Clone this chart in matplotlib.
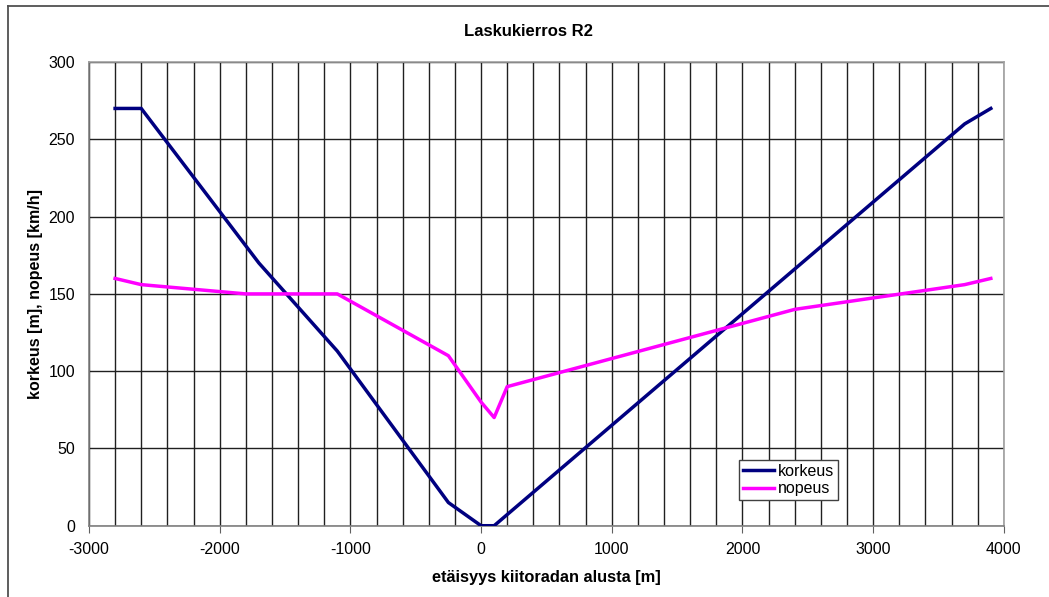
import matplotlib
matplotlib.use("Agg")
import matplotlib.pyplot as plt
from matplotlib.lines import Line2D
from matplotlib.ticker import MultipleLocator

plt.rcParams['font.family'] = ['Liberation Sans', 'DejaVu Sans']
plt.rcParams['axes.unicode_minus'] = False

# etäisyys kiitoradan alusta [m] ja arvot
x_korkeus = [-2800, -2600, -1700, -1100, -250, 0, 100, 3700, 3900]
korkeus = [270, 270, 170, 113, 15, 0, 0, 260, 270]

x_nopeus = [-2800, -2600, -2200, -1800, -1100, -250, 0, 100, 200, 2400, 3700, 3900]
nopeus = [160, 156, 153, 150, 150, 110, 80, 70, 90, 140, 156, 160]

title = "Laskukierros R2"
xlabel = "etäisyys kiitoradan alusta [m]"
ylabel = "korkeus [m], nopeus [km/h]"

fig = plt.figure(figsize=(10.49, 5.97), dpi=100)
ax = fig.add_axes([0.0848, 0.1194, 0.8722, 0.7766])

ax.plot(x_korkeus, korkeus, color='#000080', lw=2.5, label='korkeus', zorder=3)
ax.plot(x_nopeus, nopeus, color='#FF00FF', lw=2.5, label='nopeus', zorder=3)

ax.set_xlim(-3000, 4000)
ax.set_ylim(0, 300)
ax.xaxis.set_major_locator(MultipleLocator(1000))
ax.xaxis.set_minor_locator(MultipleLocator(200))
ax.yaxis.set_major_locator(MultipleLocator(50))
ax.grid(which='both', axis='x', color='#202020', lw=1.0)
ax.grid(which='major', axis='y', color='#202020', lw=1.0)
ax.set_axisbelow(True)

ax.tick_params(axis='x', which='major', direction='out', length=5, color='#606060',
               labelsize=11.5, pad=7)
ax.tick_params(axis='x', which='minor', length=0)
ax.tick_params(axis='y', which='major', direction='out', length=0, labelsize=11.5, pad=10)

for side in ['top', 'right']:
    ax.spines[side].set_color('#a0a0a0')
for side in ['left', 'bottom']:
    ax.spines[side].set_color('#808080')
for s in ax.spines.values():
    s.set_linewidth(1.2)

fig.text(0.504, 0.948, title, ha='center', va='center', fontsize=12, fontweight='bold')
ax.set_xlabel(xlabel, fontsize=11.8, fontweight='bold', labelpad=9)
ax.set_ylabel(ylabel, fontsize=11.5, fontweight='bold', labelpad=4)

leg = ax.legend(loc='lower left', bbox_to_anchor=(0.710, 0.055), fontsize=11.5,
                frameon=True, fancybox=False, handlelength=2.0, handletextpad=0.2,
                borderpad=0.25, labelspacing=0.15, borderaxespad=0)
leg.get_frame().set_edgecolor('#404040')
leg.get_frame().set_linewidth(1.0)
leg.get_frame().set_alpha(1)

# kaavion reunus (vasen ja yläreuna)
fig.add_artist(Line2D([0.0076, 0.0076], [0.0, 0.99], transform=fig.transFigure,
                      color='#505050', lw=1.3))
fig.add_artist(Line2D([0.0076, 1.0], [0.99, 0.99], transform=fig.transFigure,
                      color='#505050', lw=1.3))

fig.savefig('out.png', dpi=100)
